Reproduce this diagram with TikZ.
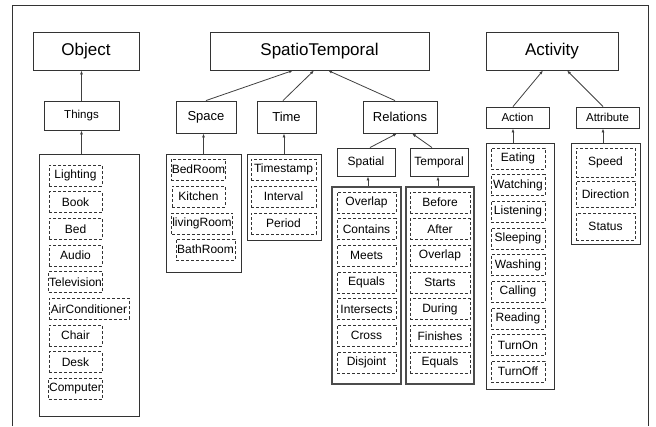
\documentclass[tikz,border=0pt]{standalone}
\usepackage{fontspec}
\setmainfont{Liberation Sans}
\usetikzlibrary{arrows.meta}
\begin{document}
\begin{tikzpicture}[x=1pt,y=-1pt,
 box/.style={draw=black!80, line width=0.9pt, fill=white, inner sep=0pt, inner xsep=1pt, align=center},
 topbox/.style={box, font=\fontsize{17}{20}\selectfont},
 midbox/.style={box, font=\fontsize{13}{15}\selectfont},
 spbox/.style={box, font=\fontsize{12}{14}\selectfont},
 smallbox/.style={box, font=\fontsize{11.5}{13}\selectfont},
 cont/.style={draw=black!80, line width=0.9pt, inner sep=0pt},
 dcont/.style={draw=black!70, line width=1.3pt, inner sep=0pt},
 item/.style={draw=black!80, line width=0.8pt, dash pattern=on 3pt off 2pt, inner sep=0pt, inner xsep=0.5pt, font=\fontsize{12}{14}\selectfont, minimum height=21pt},
 link/.style={draw=black!75, line width=0.8pt, -{Latex[length=4pt,width=3pt]}}
]
\useasboundingbox (0,0) rectangle (656,426);
\draw[black!80, line width=0.9pt] (12,426) -- (12,5) -- (648,5) -- (648,426);

% top level
\node[topbox, minimum width=106pt, minimum height=38pt] (obj) at (86,51) {Object};
\node[topbox, minimum width=219pt, minimum height=38pt] (st) at (319.5,51) {SpatioTemporal};
\node[topbox, minimum width=132pt, minimum height=38pt] (act) at (552,51) {Activity};

% second level
\node[smallbox, minimum width=75pt, minimum height=29pt] (things) at (81.5,115.5) {Things};
\node[midbox, minimum width=60pt, minimum height=32pt] (space) at (206,117) {Space};
\node[midbox, minimum width=59pt, minimum height=32pt] (time) at (286.5,117) {Time};
\node[midbox, minimum width=74pt, minimum height=32pt] (rel) at (400,117) {Relations};
\node[spbox, minimum width=58pt, minimum height=28pt] (spatial) at (366,162) {Spatial};
\node[spbox, minimum width=58pt, minimum height=28pt] (temporal) at (439,162) {Temporal};
\node[smallbox, minimum width=63pt, minimum height=21pt] (action) at (517.5,117.5) {Action};
\node[smallbox, minimum width=63pt, minimum height=21pt] (attr) at (607.5,117.5) {Attribute};

% containers
\node[cont, minimum width=100pt, minimum height=262pt] (thc) at (89,285) {};
\node[cont, minimum width=75pt, minimum height=118pt] (spc) at (203.5,213) {};
\node[cont, minimum width=74pt, minimum height=86pt] (tic) at (284,197) {};
\node[dcont, minimum width=69pt, minimum height=197pt] (sac) at (366.5,285.5) {};
\node[dcont, minimum width=68pt, minimum height=197pt] (tec) at (440,285.5) {};
\node[cont, minimum width=68pt, minimum height=246pt] (acc) at (520,266) {};
\node[cont, minimum width=69pt, minimum height=101pt] (atc) at (605.5,193.5) {};

% Things items
\node[item, minimum width=53pt] (th1) at (75.5,175.5) {Lighting};
\node[item, minimum width=53pt] (th2) at (75.5,202.15) {Book};
\node[item, minimum width=53pt] (th3) at (75.5,228.8) {Bed};
\node[item, minimum width=53pt] (th4) at (75.5,255.45) {Audio};
\node[item, minimum width=53pt] (th5) at (75.5,282.1) {Television};
\node[item, minimum width=80pt] (th6) at (89,308.75) {AirConditioner};
\node[item, minimum width=53pt] (th7) at (75.5,335.4) {Chair};
\node[item, minimum width=53pt] (th8) at (75.5,362.05) {Desk};
\node[item, minimum width=53pt] (th9) at (75.5,388.7) {Computer};

% Space items
\node[item, minimum width=53pt] (sp1) at (198.5,169.5) {BedRoom};
\node[item, minimum width=53pt] (sp2) at (198.5,196.5) {Kitchen};
\node[item, minimum width=60pt] (sp3) at (202,223.5) {livingRoom};
\node[item, minimum width=59pt] (sp4) at (205.5,249.5) {BathRoom};

% Time items
\node[item, minimum width=65pt] (ti1) at (283.5,169.5) {Timestamp};
\node[item, minimum width=65pt] (ti2) at (283.5,196.5) {Interval};
\node[item, minimum width=65pt] (ti3) at (283.5,223.5) {Period};

% Spatial items
\node[item, minimum width=59pt] (sa1) at (366.5,202.5) {Overlap};
\node[item, minimum width=59pt] (sa2) at (366.5,229.15) {Contains};
\node[item, minimum width=59pt] (sa3) at (366.5,255.8) {Meets};
\node[item, minimum width=59pt] (sa4) at (366.5,282.45) {Equals};
\node[item, minimum width=59pt] (sa5) at (366.5,309.1) {Intersects};
\node[item, minimum width=59pt] (sa6) at (366.5,335.75) {Cross};
\node[item, minimum width=59pt] (sa7) at (366.5,362.4) {Disjoint};

% Temporal items
\node[item, minimum width=60pt] (te1) at (440,202.5) {Before};
\node[item, minimum width=60pt] (te2) at (440,229.15) {After};
\node[item, minimum width=60pt] (te3) at (440,255.8) {Overlap};
\node[item, minimum width=60pt] (te4) at (440,282.45) {Starts};
\node[item, minimum width=60pt] (te5) at (440,309.1) {During};
\node[item, minimum width=60pt] (te6) at (440,335.75) {Finishes};
\node[item, minimum width=60pt] (te7) at (440,362.4) {Equals};

% Action items
\node[item, minimum width=54pt] (ac1) at (518,158.5) {Eating};
\node[item, minimum width=54pt] (ac2) at (518,185.15) {Watching};
\node[item, minimum width=54pt] (ac3) at (518,211.8) {Listening};
\node[item, minimum width=54pt] (ac4) at (518,238.45) {Sleeping};
\node[item, minimum width=54pt] (ac5) at (518,265.1) {Washing};
\node[item, minimum width=54pt] (ac6) at (518,291.75) {Calling};
\node[item, minimum width=54pt] (ac7) at (518,318.4) {Reading};
\node[item, minimum width=54pt] (ac8) at (518,345.05) {TurnOn};
\node[item, minimum width=54pt] (ac9) at (518,371.7) {TurnOff};

% Attribute items
\node[item, minimum width=59pt, minimum height=29pt] (at1) at (605.5,162.5) {Speed};
\node[item, minimum width=59pt, minimum height=26pt] (at2) at (605.5,194) {Direction};
\node[item, minimum width=59pt, minimum height=27pt] (at3) at (605.5,226.5) {Status};

% connectors
\draw[link] (things.north) -- (things.north |- obj.south);
\draw[link] (things.south |- thc.north) -- (things.south);
\draw[link] (space.north) -- ([xshift=-26.5pt]st.south);
\draw[link] ([xshift=-3.5pt]time.north) -- ([xshift=-5.5pt]st.south);
\draw[link] ([xshift=-5pt]rel.north) -- ([xshift=8.5pt]st.south);
\draw[link] (spc.north) -- (spc.north |- space.south);
\draw[link] (tic.north) -- (tic.north |- time.south);
\draw[link] ([xshift=4pt]spatial.north) -- ([xshift=-3pt]rel.south);
\draw[link] ([xshift=-7pt]temporal.north) -- ([xshift=12pt]rel.south);
\draw[link] ([xshift=1.5pt]sac.north) -- ([xshift=1.5pt]sac.north |- spatial.south);
\draw[link] ([xshift=-2pt]tec.north) -- ([xshift=-2pt]tec.north |- temporal.south);
\draw[link] ([xshift=-4.5pt]action.north) -- ([xshift=-9pt]act.south);
\draw[link] ([xshift=-4.5pt]attr.north) -- ([xshift=15pt]act.south);
\draw[link] ([xshift=-4.5pt]action.south |- acc.north) -- ([xshift=-4.5pt]action.south);
\draw[link] ([xshift=-4.5pt]attr.south |- atc.north) -- ([xshift=-4.5pt]attr.south);
\end{tikzpicture}
\end{document}
